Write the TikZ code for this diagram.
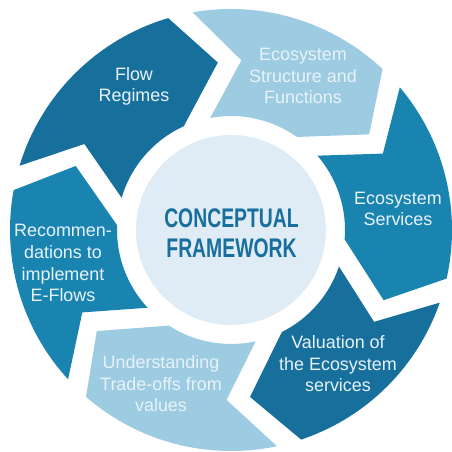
\documentclass[tikz,border=0pt]{standalone}
\usepackage{fontspec}
\setmainfont{Liberation Sans}
\usepackage{graphicx}

\definecolor{deepblue}{HTML}{176F9C}
\definecolor{midblue}{HTML}{1A84B1}
\definecolor{paleblue}{HTML}{9CCBE2}
\definecolor{coreblue}{HTML}{DFECF5}
\definecolor{labeltext}{HTML}{E8F3F9}
\definecolor{titleblue}{HTML}{186E9D}

% One arrow of the ring: #1 = angle of the tail notch, #2 = angle of the head tip, #3 = fill
\newcommand\ringseg[3]{%
  \fill[#3] ({#1+5.5}:221bp)
    arc[start angle={#1+5.5}, end angle={#2+12}, radius=221bp]
    -- (#2:168bp) -- ({#2+20}:114bp)
    arc[start angle={#2+20}, end angle={#1+6}, radius=114bp]
    -- ({#1-8}:170bp) -- cycle;}
\newcommand\cond[1]{\scalebox{0.72}[1]{#1}}

\begin{document}
\begin{tikzpicture}[x=1bp, y=1bp,
  % labels are placed by the baseline of their last line
  lbl/.style={text=labeltext, align=center, font=\fontsize{18}{22}\selectfont,
              anchor=base, inner sep=0pt},
  titletext/.style={text=titleblue, align=center,
              font=\fontsize{27}{31}\selectfont\bfseries, anchor=base, inner sep=0pt}]
\useasboundingbox (0,0) rectangle (452,452);
\fill[white] (0,0) rectangle (452,452);

\begin{scope}[shift={(231,222)}]
  \ringseg{157.6}{94.5}{deepblue}
  \ringseg{94.5}{34.7}{paleblue}
  \ringseg{34.7}{-24.7}{midblue}
  \ringseg{-24.7}{-83.5}{deepblue}
  \ringseg{-83.5}{-143}{paleblue}
  \ringseg{217}{157.6}{midblue}
  \node[circle, fill=coreblue, minimum size=190bp, inner sep=0pt] (core) at (0,0) {};
\end{scope}

\node[titletext] (title) at (231.5,194) {\cond{CONCEPTUAL}\\\cond{FRAMEWORK}};

\node[lbl] (flow) at (134,350) {Flow\\Regimes};
\node[lbl] (structure) at (303,348) {Ecosystem\\Structure and\\Functions};
\node[lbl] (services) at (398,226) {Ecosystem\\Services};
\node[lbl] (valuation) at (338,60) {Valuation of\\the Ecosystem\\services};
\node[lbl] (tradeoffs) at (161,40) {Understanding\\Trade-offs from\\values};
\node[lbl] (recommend) at (63,150) {Recommen-\\dations to\\implement\\E-Flows};
\end{tikzpicture}
\end{document}
